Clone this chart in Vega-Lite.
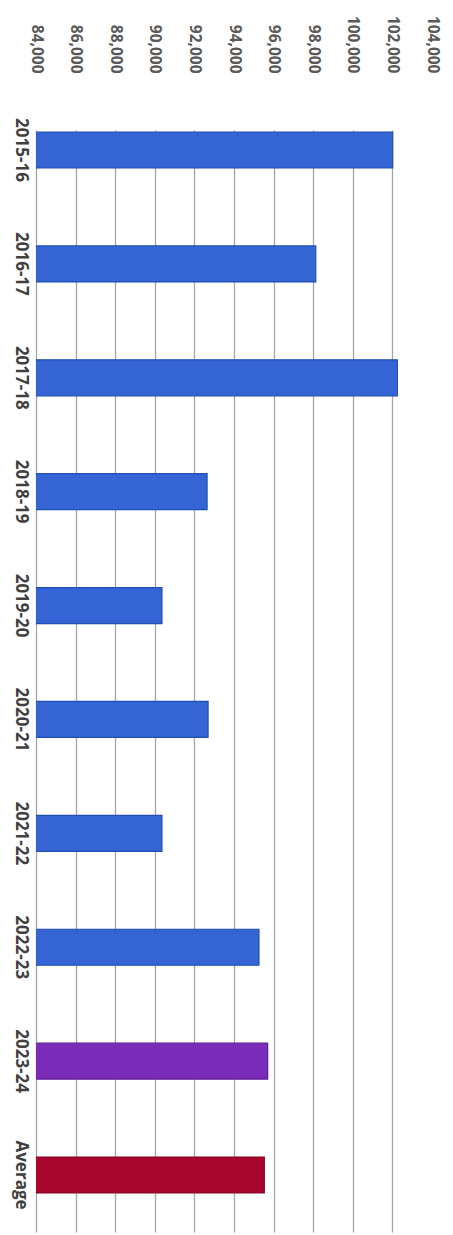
{
  "$schema": "https://vega.github.io/schema/vega-lite/v6.json",
  "width": 396,
  "height": 1102,
  "autosize": {"type": "none"},
  "padding": {"left": 36, "top": 130, "right": 21, "bottom": 3},
  "background": "white",
  "data": {
    "values": [
      {"year": "2015-16", "value": 102015, "kind": "year"},
      {"year": "2016-17", "value": 98130, "kind": "year"},
      {"year": "2017-18", "value": 102250, "kind": "year"},
      {"year": "2018-19", "value": 92640, "kind": "year"},
      {"year": "2019-20", "value": 90360, "kind": "year"},
      {"year": "2020-21", "value": 92690, "kind": "year"},
      {"year": "2021-22", "value": 90360, "kind": "year"},
      {"year": "2022-23", "value": 95260, "kind": "year"},
      {"year": "2023-24", "value": 95700, "kind": "current"},
      {"year": "Average", "value": 95530, "kind": "average"}
    ]
  },
  "mark": {"type": "bar", "strokeWidth": 1.2, "clip": true},
  "encoding": {
    "y": {
      "field": "year",
      "type": "nominal",
      "sort": null,
      "scale": {"paddingInner": 0.684, "paddingOuter": 0.18, "align": 0.049},
      "axis": {
        "title": null,
        "orient": "left",
        "labelAngle": 90,
        "labelAlign": "center",
        "labelBaseline": "top",
        "ticks": false,
        "tickSize": 0,
        "domain": false,
        "labelPadding": 8,
        "labelFont": "Open Sans",
        "labelFontWeight": "bold",
        "labelFontSize": 17,
        "labelColor": "#404040"
      }
    },
    "x": {
      "field": "value",
      "type": "quantitative",
      "scale": {"domain": [84000, 104000], "zero": false, "nice": false},
      "axis": {
        "title": null,
        "orient": "top",
        "values": [84000, 86000, 88000, 90000, 92000, 94000, 96000, 98000, 100000, 102000, 104000],
        "format": ",.0f",
        "labelAngle": 90,
        "labelAlign": "right",
        "labelBaseline": "middle",
        "ticks": false,
        "tickSize": 0,
        "domain": false,
        "labelPadding": 57,
        "labelFont": "Open Sans",
        "labelFontWeight": "bold",
        "labelFontSize": 15.5,
        "labelColor": "#595959",
        "grid": true,
        "gridColor": "#a6a6a6",
        "gridWidth": 1.3,
        "gridOpacity": {"condition": {"test": "datum.value == 104000", "value": 0}, "value": 1}
      }
    },
    "color": {
      "field": "kind",
      "type": "nominal",
      "scale": {"domain": ["year", "current", "average"], "range": ["#3565d4", "#7a2cb8", "#a8062e"]},
      "legend": null
    },
    "stroke": {
      "field": "kind",
      "type": "nominal",
      "scale": {"domain": ["year", "current", "average"], "range": ["#1f4db0", "#5a1f9a", "#80001e"]},
      "legend": null
    }
  },
  "config": {"view": {"stroke": null}}
}
